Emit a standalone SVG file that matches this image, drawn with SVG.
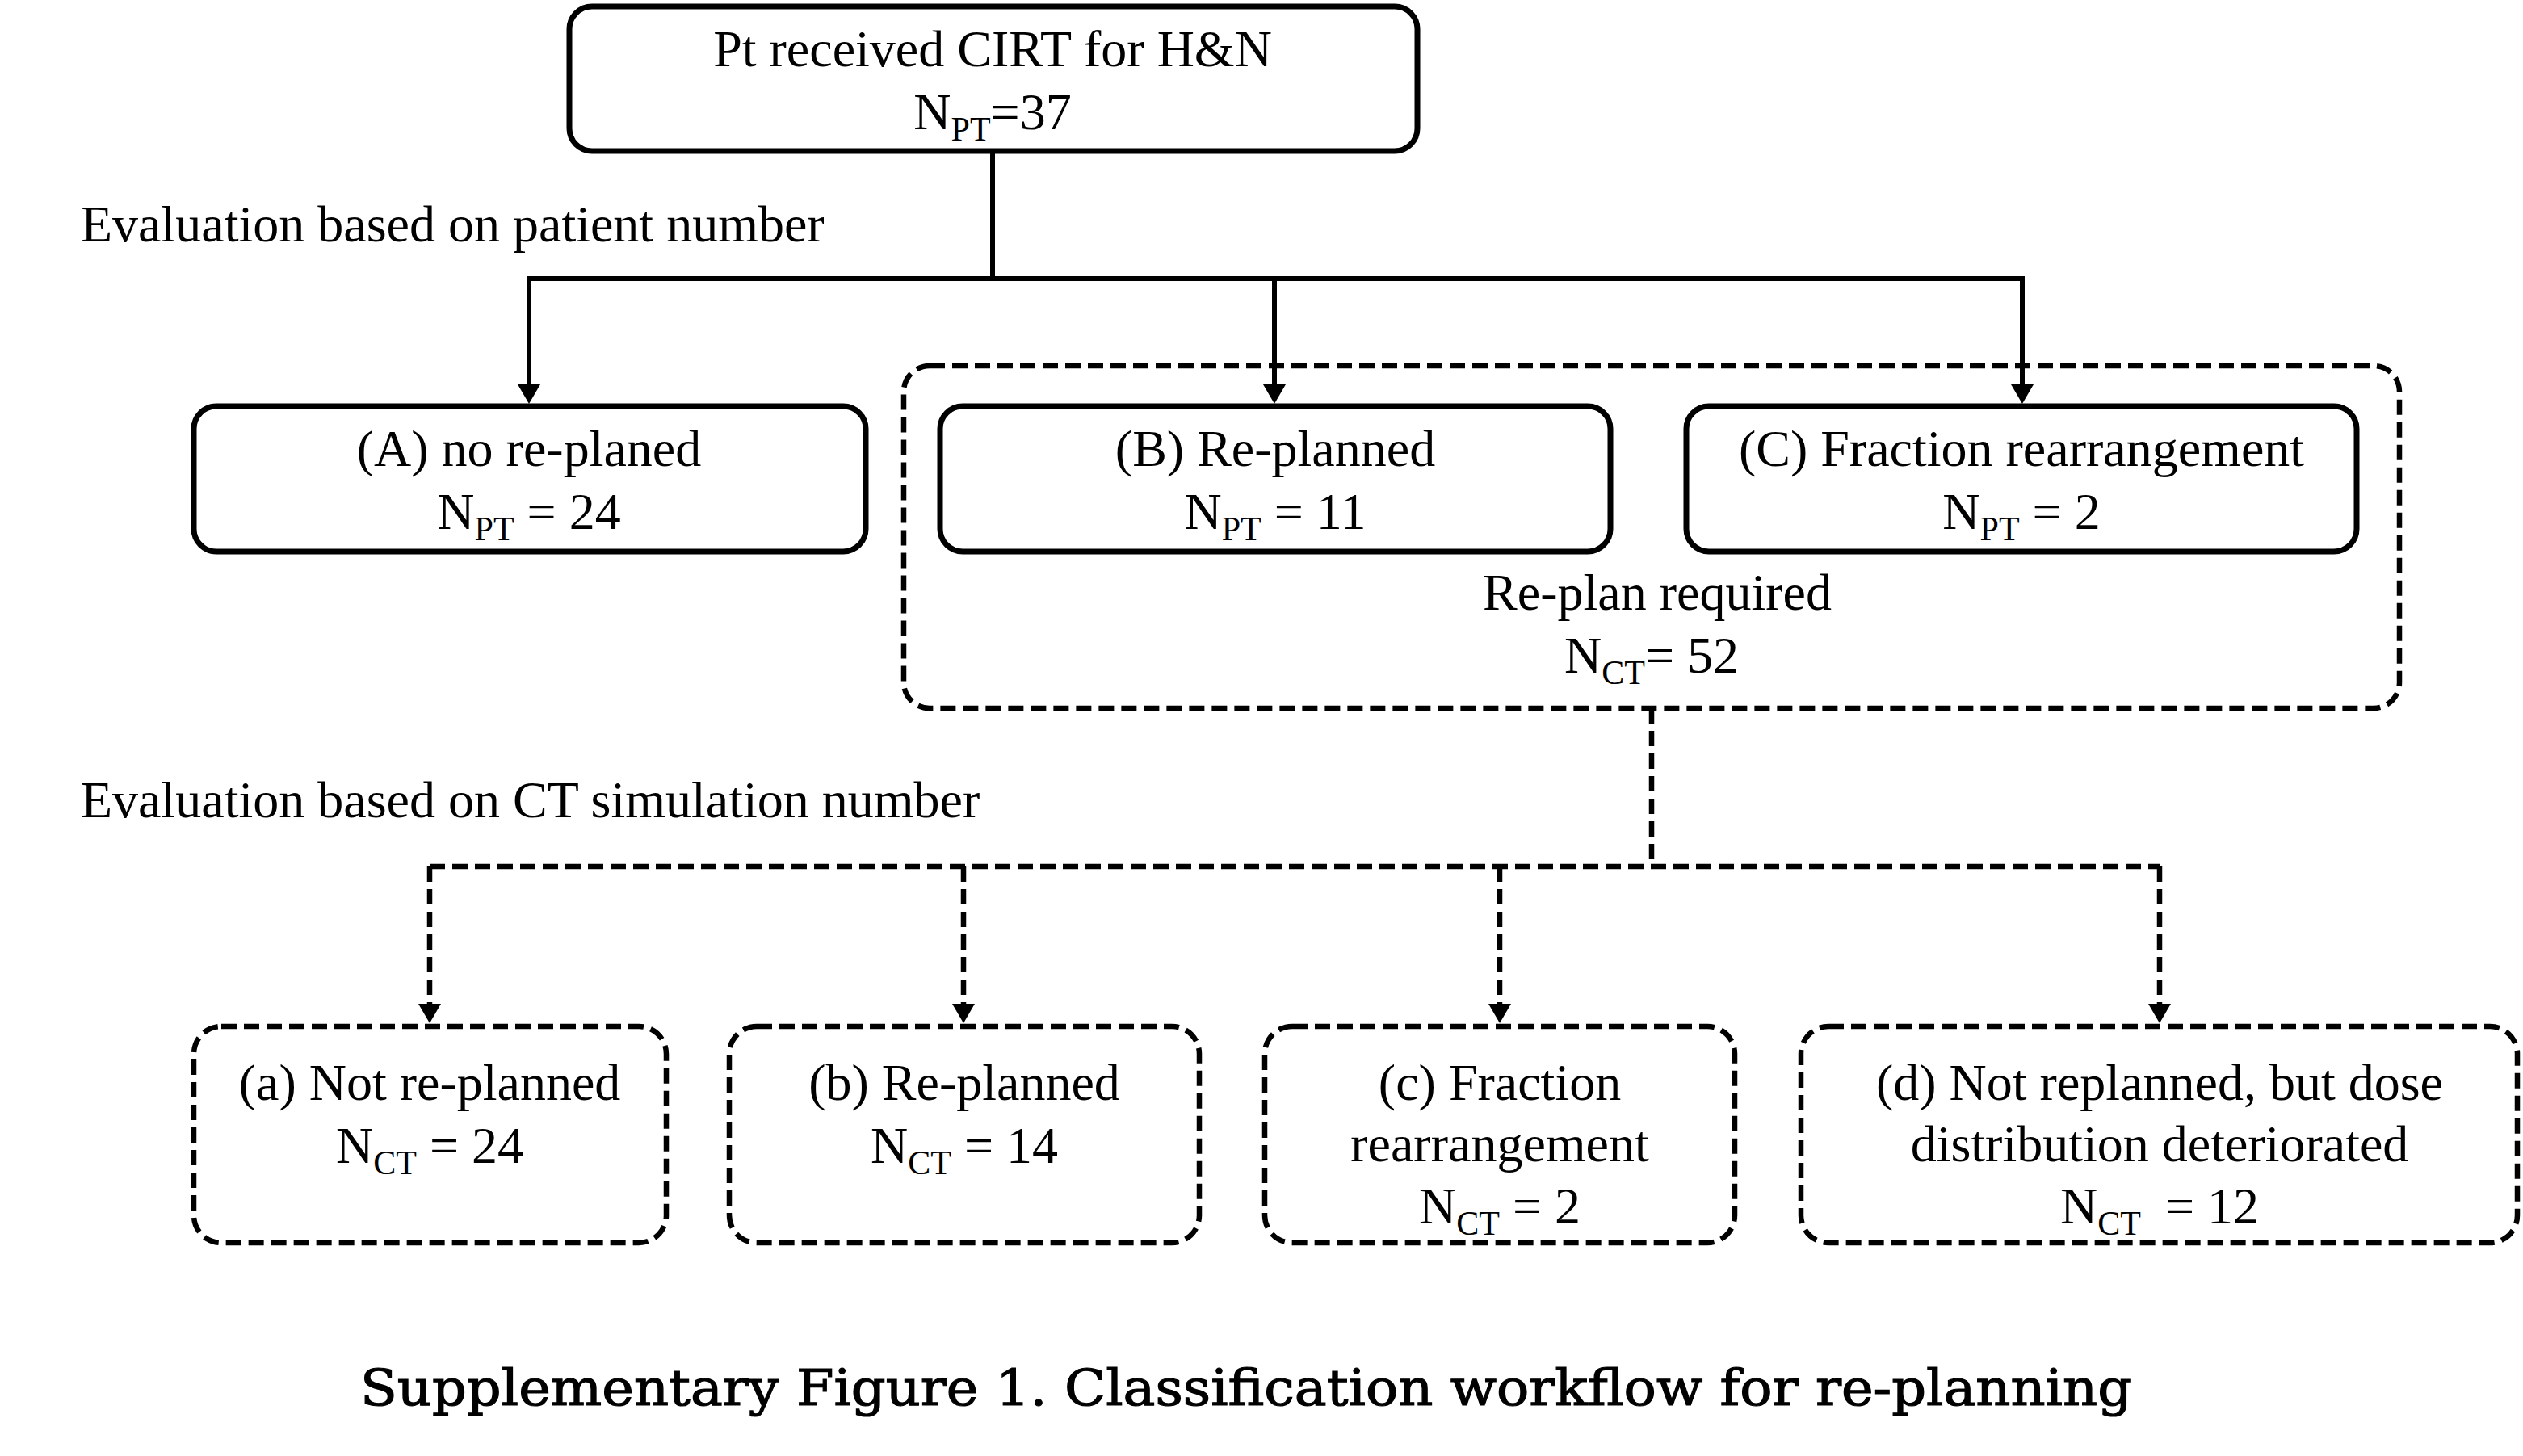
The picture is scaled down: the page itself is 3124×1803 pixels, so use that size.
<svg xmlns="http://www.w3.org/2000/svg" width="3124" height="1803" viewBox="0 0 3124 1803">
<style>
.t{font-family:"Liberation Serif","Times New Roman",serif;font-size:64px;fill:#000}
.c{text-anchor:middle}
.s{font-size:42px}
.box{fill:none;stroke:#000;stroke-width:7}
.dbox{fill:none;stroke:#000;stroke-width:6.5;stroke-dasharray:19 9}
.ln{fill:none;stroke:#000;stroke-width:6}
.dln{fill:none;stroke:#000;stroke-width:6.5;stroke-dasharray:19 9}
.cap{font-family:"DejaVu Serif","Liberation Serif",serif;font-size:62px;fill:#000;stroke:#000;stroke-width:1.2}
</style>
<defs>
<marker id="arr" markerUnits="userSpaceOnUse" viewBox="0 0 24 28" markerWidth="24" markerHeight="28" refX="14" refY="14" orient="auto">
<path d="M0,0 L24,14 L0,28 Z" fill="#000"/>
</marker>
</defs>
<rect width="3124" height="1803" fill="#fff"/>

<g id="connectors">
<path class="ln" d="M1229,187 V345 M652,345 H2507"/>
<path class="ln" d="M655,345 V490" marker-end="url(#arr)"/>
<path class="ln" d="M1578,345 V490" marker-end="url(#arr)"/>
<path class="ln" d="M2504,345 V490" marker-end="url(#arr)"/>
<path class="dln" d="M2045,877 V1073 M532,1073 H2674"/>
<path class="dln" d="M532,1073 V1257" marker-end="url(#arr)"/>
<path class="dln" d="M1193,1073 V1257" marker-end="url(#arr)"/>
<path class="dln" d="M1857,1073 V1257" marker-end="url(#arr)"/>
<path class="dln" d="M2674,1073 V1257" marker-end="url(#arr)"/>
</g>

<g id="top">
<rect class="box" x="705" y="8" width="1050" height="179" rx="28"/>
<text class="t c" x="1229" y="82">Pt received CIRT for H&amp;N</text>
<text class="t c" x="1229" y="160">N<tspan class="s" dy="14">PT</tspan><tspan dy="-14">=37</tspan></text>
</g>

<text class="t" x="100" y="299">Evaluation based on patient number</text>

<g id="A">
<rect class="box" x="240" y="503" width="832" height="180" rx="28"/>
<text class="t c" x="655" y="577">(A) no re-planed</text>
<text class="t c" x="655" y="655">N<tspan class="s" dy="14">PT</tspan><tspan dy="-14"> = 24</tspan></text>
</g>

<g id="replan">
<rect class="dbox" x="1119" y="453" width="1852" height="424" rx="32"/>
<text class="t c" x="2052" y="755">Re-plan required</text>
<text class="t c" x="2045" y="833">N<tspan class="s" dy="14">CT</tspan><tspan dy="-14">= 52</tspan></text>
</g>

<g id="B">
<rect class="box" x="1164" y="503" width="830" height="180" rx="28"/>
<text class="t c" x="1579" y="577">(B) Re-planned</text>
<text class="t c" x="1579" y="655">N<tspan class="s" dy="14">PT</tspan><tspan dy="-14"> = 11</tspan></text>
</g>

<g id="C">
<rect class="box" x="2088" y="503" width="830" height="180" rx="28"/>
<text class="t c" x="2503" y="577">(C) Fraction rearrangement</text>
<text class="t c" x="2503" y="655">N<tspan class="s" dy="14">PT</tspan><tspan dy="-14"> = 2</tspan></text>
</g>

<text class="t" x="100" y="1012">Evaluation based on CT simulation number</text>

<g id="a">
<rect class="dbox" x="240" y="1271" width="585" height="268" rx="34"/>
<text class="t c" x="532" y="1362">(a) Not re-planned</text>
<text class="t c" x="532" y="1440">N<tspan class="s" dy="14">CT</tspan><tspan dy="-14"> = 24</tspan></text>
</g>

<g id="b">
<rect class="dbox" x="903" y="1271" width="582" height="268" rx="34"/>
<text class="t c" x="1194" y="1362">(b) Re-planned</text>
<text class="t c" x="1194" y="1440">N<tspan class="s" dy="14">CT</tspan><tspan dy="-14"> = 14</tspan></text>
</g>

<g id="c">
<rect class="dbox" x="1566" y="1271" width="582" height="268" rx="34"/>
<text class="t c" x="1857" y="1362">(c) Fraction</text>
<text class="t c" x="1857" y="1438">rearrangement</text>
<text class="t c" x="1857" y="1515">N<tspan class="s" dy="14">CT</tspan><tspan dy="-14"> = 2</tspan></text>
</g>

<g id="d">
<rect class="dbox" x="2230" y="1271" width="887" height="268" rx="34"/>
<text class="t c" x="2674" y="1362">(d) Not replanned, but dose</text>
<text class="t c" x="2674" y="1438">distribution deteriorated</text>
<text class="t c" x="2674" y="1515">N<tspan class="s" dy="14">CT</tspan><tspan dy="-14" dx="14"> = 12</tspan></text>
</g>

<text class="cap" x="446" y="1740" textLength="2194" lengthAdjust="spacingAndGlyphs">Supplementary Figure 1. Classification workflow for re-planning</text>
</svg>
